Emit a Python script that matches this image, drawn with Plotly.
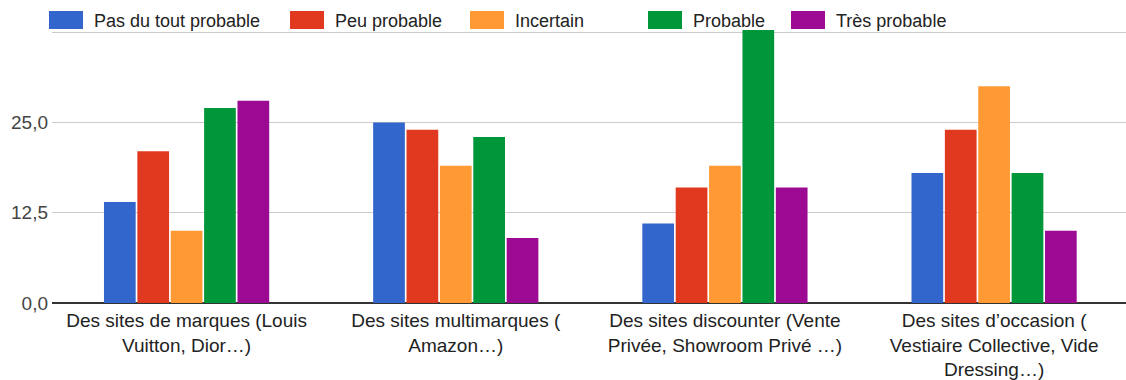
import plotly.graph_objects as go

# Survey answers per type of website
categories = [
    "Des sites de marques (Louis<br>Vuitton, Dior…)",
    "Des sites multimarques (<br>Amazon…)",
    "Des sites discounter (Vente<br>Privée, Showroom Privé …)",
    "Des sites d’occasion (<br>Vestiaire Collective, Vide<br>Dressing…)",
]
series_names = ["Pas du tout probable", "Peu probable", "Incertain", "Probable", "Très probable"]
pas_du_tout = [14, 25, 11, 18]
peu_probable = [21, 24, 16, 24]
incertain = [10, 19, 19, 30]
probable = [27, 23, 38, 18]
tres_probable = [28, 9, 16, 10]
series_values = [pas_du_tout, peu_probable, incertain, probable, tres_probable]
colors = ["#3366CC", "#E0391F", "#FF9933", "#00963A", "#9C0A94"]

tick_vals = [0, 12.5, 25, 37.5]
tick_text = ["0,0", "12,5", "25,0", ""]

W, H = 1126, 380
L, R, T, B = 52, 0, 30, 77
FONT = "Liberation Sans, Arial, sans-serif"

fig = go.Figure()
for name, vals, col in zip(series_names, series_values, colors):
    fig.add_trace(go.Bar(
        x=categories, y=vals, name=name,
        marker=dict(color=col, line=dict(width=0)),
        showlegend=False,
    ))

# Legend drawn as wide swatches above the plot area
plot_w = W - L - R
plot_h = H - T - B
def px_x(px):
    return (px - L) / plot_w
def px_y(py):
    return (H - B - py) / plot_h

legend_x = [49, 290, 470, 648, 791]
for name, col, x0 in zip(series_names, colors, legend_x):
    fig.add_shape(type="rect", xref="paper", yref="paper",
                  x0=px_x(x0), x1=px_x(x0 + 34), y0=px_y(29), y1=px_y(11),
                  fillcolor=col, line=dict(width=0), layer="above")
    fig.add_annotation(xref="paper", yref="paper", x=px_x(x0 + 43), y=px_y(21),
                       text=name, showarrow=False, xanchor="left", yanchor="middle",
                       font=dict(family=FONT, size=18, color="#222222"))

fig.update_layout(
    width=W, height=H,
    margin=dict(l=L, r=R, t=T, b=B),
    paper_bgcolor="white", plot_bgcolor="white",
    barmode="group", bargap=0.38, bargroupgap=0.05,
    font=dict(family=FONT, size=18, color="#222222"),
    xaxis=dict(range=[-0.5, 3.49], showgrid=False, showline=False, ticks="",
               ticklabelstandoff=4,
               tickfont=dict(family=FONT, size=19, color="#222222")),
    yaxis=dict(range=[0, 37.8], tickvals=tick_vals, ticktext=tick_text,
               showgrid=True, gridcolor="#CCCCCC", gridwidth=1,
               zeroline=True, zerolinecolor="#333333", zerolinewidth=1.5,
               showline=False, ticks="", ticklabelstandoff=3,
               tickfont=dict(family=FONT, size=19, color="#444444")),
)

fig.write_html("out.html")
